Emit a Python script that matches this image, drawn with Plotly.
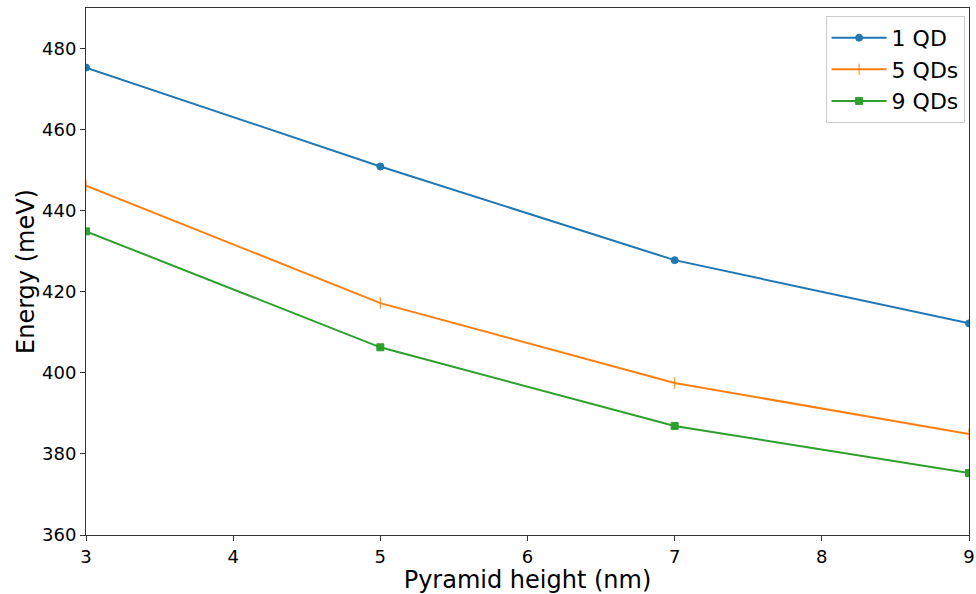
import plotly.graph_objects as go

heights = [3, 5, 7, 9]
qd1 = [475.3, 450.9, 427.8, 412.2]
qd5 = [446.2, 417.2, 397.5, 384.9]
qd9 = [434.9, 406.3, 386.9, 375.3]
names = ["1 QD", "5 QDs", "9 QDs"]
colors = ["#1f77b4", "#ff7f0e", "#2ca02c"]
symbols = ["circle", "line-ns-open", "square"]
sizes = [7, 8, 7]

fig = go.Figure()
for name, ys, c, s, sz in zip(names, [qd1, qd5, qd9], colors, symbols, sizes):
    fig.add_trace(go.Scatter(
        x=heights, y=ys, name=name, mode="lines+markers",
        line=dict(color=c, width=2),
        marker=dict(symbol=s, size=sz, color=c, line=dict(color=c, width=1)),
        cliponaxis=True,
    ))

axis_common = dict(
    showline=True, linecolor="#333", linewidth=1, mirror=True, automargin=False,
    ticks="outside", ticklen=5, tickcolor="#333", showgrid=False, zeroline=False,
    tickfont=dict(family="DejaVu Sans", size=18, color="black"),
)
fig.update_layout(
    width=976, height=594,
    margin=dict(l=86, r=7, t=8, b=59),
    paper_bgcolor="white", plot_bgcolor="white",
    font=dict(family="DejaVu Sans", color="black"),
    xaxis=dict(range=[3, 9], tickvals=[3, 4, 5, 6, 7, 8, 9],
               title=dict(text="Pyramid height (nm)", font=dict(size=24), standoff=4), **axis_common),
    yaxis=dict(range=[360, 490], tickvals=[360, 380, 400, 420, 440, 460, 480],
               title=dict(text="Energy (meV)", font=dict(size=24), standoff=0), **axis_common),
    legend=dict(x=0.995, y=0.985, xanchor="right", yanchor="top",
                bgcolor="rgba(255,255,255,0.8)", bordercolor="#ccc", borderwidth=1,
                font=dict(size=22), itemwidth=55, tracegroupgap=3),
    showlegend=True,
)
fig.write_html("out.html")
